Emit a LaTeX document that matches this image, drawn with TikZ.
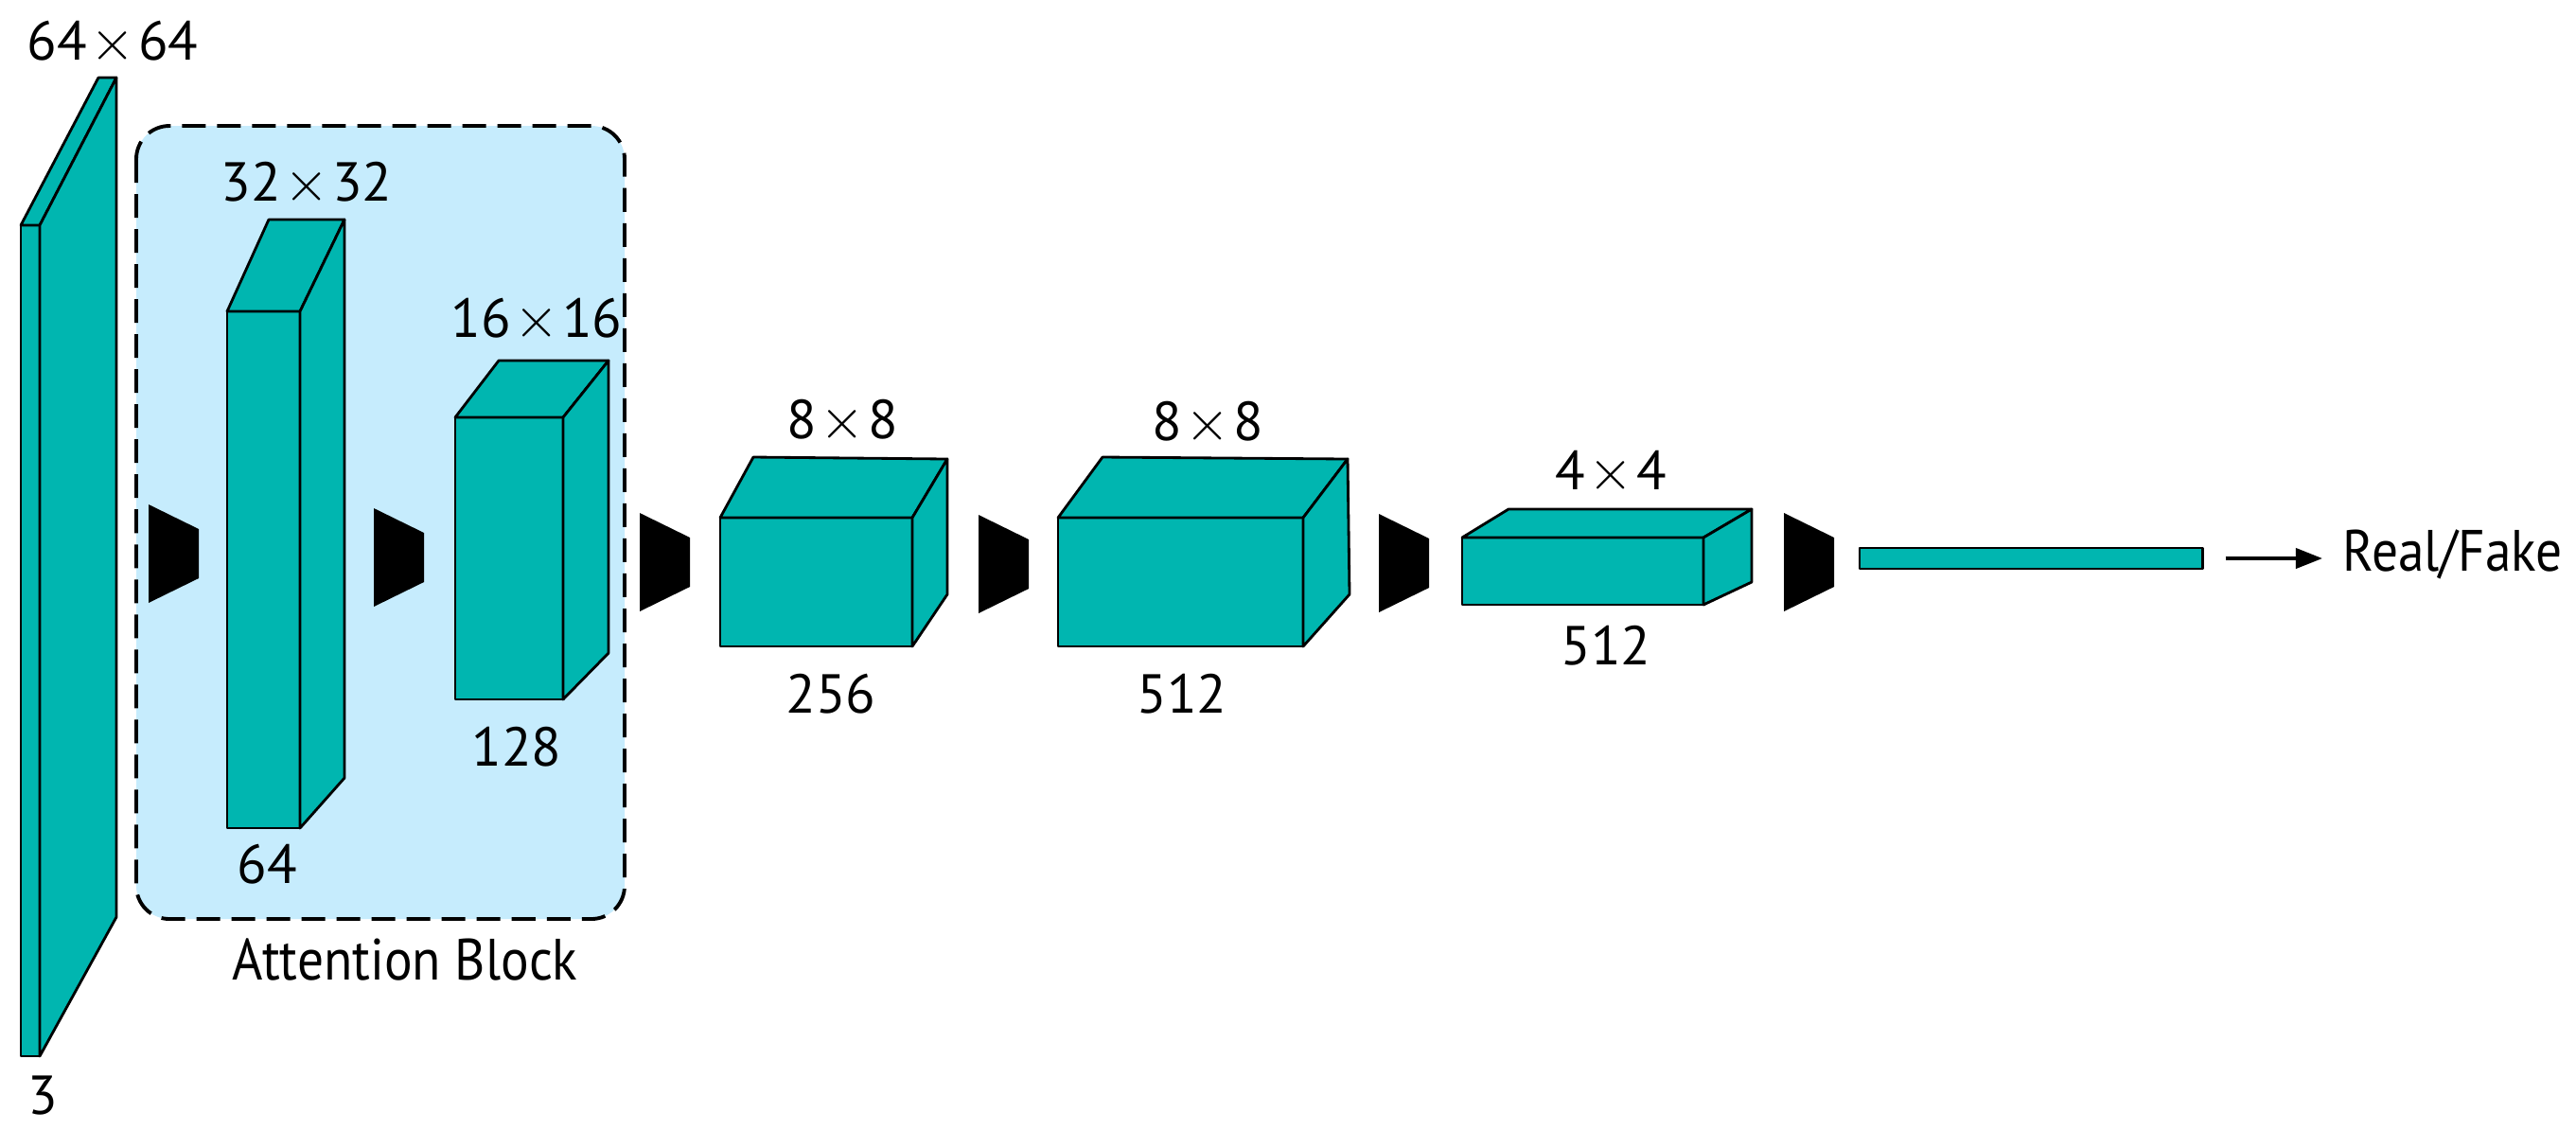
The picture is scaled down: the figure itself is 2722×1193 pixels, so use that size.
\documentclass[tikz,border=0pt]{standalone}
\usepackage{fontspec}
\setmainfont{PT Sans}
\newfontfamily\narrowfont[FakeStretch=0.9]{PT Sans}
\usetikzlibrary{arrows.meta}
\definecolor{fmteal}{RGB}{0,182,176}
\definecolor{attblue}{RGB}{198,236,253}
\newcommand{\by}{\kern1pt$\times$\kern1pt}

\begin{document}
\begin{tikzpicture}[x=0.01cm,y=-0.01cm,
    face/.style={draw=black,fill=fmteal,line width=0.8pt,line join=round},
    dim/.style={inner sep=0pt,anchor=base,font=\fontsize{16.5}{18}\selectfont},
    word/.style={inner sep=0pt,font=\fontsize{17.5}{20}\selectfont\narrowfont}]
  \useasboundingbox (0,0) rectangle (2722,1193);

  % attention block
  \draw[fill=attblue,line width=1.1pt,dash pattern=on 0.25cm off 0.12cm,rounded corners=0.35cm]
    (144,133) rectangle (660,971);
  \node[word,anchor=base] (att) at (428,1035) {Attention Block};

  % input 64x64x3
  \draw[face] (22,238) rectangle (42,1116);
  \draw[face] (22,238) -- (104,82) -- (123,82) -- (42,238) -- cycle;
  \draw[face] (42,238) -- (123,82) -- (123,969) -- (42,1116) -- cycle;
  \node[dim] (s0) at (119,63) {64\by 64};
  \node[dim] (c0) at (45,1177) {3};

  % 32x32x64
  \draw[face] (240,329) rectangle (317,875);
  \draw[face] (240,329) -- (284,232) -- (364,232) -- (317,329) -- cycle;
  \draw[face] (317,329) -- (364,232) -- (364,822) -- (317,875) -- cycle;
  \node[dim] (s1) at (324,212) {32\by 32};
  \node[dim] (c1) at (282,933) {64};

  % 16x16x128
  \draw[face] (481,441) rectangle (595,739);
  \draw[face] (481,441) -- (527,381) -- (643,381) -- (595,441) -- cycle;
  \draw[face] (595,441) -- (643,381) -- (643,690) -- (595,739) -- cycle;
  \node[dim] (s2) at (567,356) {16\by 16};
  \node[dim] (c2) at (546,809) {128};

  % 8x8x256
  \draw[face] (761,547) rectangle (964,683);
  \draw[face] (761,547) -- (796,483) -- (1001,485) -- (964,547) -- cycle;
  \draw[face] (964,547) -- (1001,485) -- (1001,628) -- (964,683) -- cycle;
  \node[dim] (s3) at (890,463) {8\by 8};
  \node[dim] (c3) at (878,753) {256};

  % 8x8x512
  \draw[face] (1118,547) rectangle (1377,683);
  \draw[face] (1118,547) -- (1165,483) -- (1424,485) -- (1377,547) -- cycle;
  \draw[face] (1377,547) -- (1424,485) -- (1426,628) -- (1377,683) -- cycle;
  \node[dim] (s4) at (1276,465) {8\by 8};
  \node[dim] (c4) at (1249,753) {512};

  % 4x4x512
  \draw[face] (1545,568) rectangle (1800,639);
  \draw[face] (1545,568) -- (1594,538) -- (1851,538) -- (1800,568) -- cycle;
  \draw[face] (1800,568) -- (1851,538) -- (1851,615) -- (1800,639) -- cycle;
  \node[dim] (s5) at (1702,517) {4\by 4};
  \node[dim] (c5) at (1697,702) {512};

  % conv layers
  \foreach \x/\y in {157/585,395/589,676/594,1034/596,1457/595,1885/594}
    \fill (\x,\y-52) -- (\x+53,\y-26) -- (\x+53,\y+26) -- (\x,\y+52) -- cycle;

  % output
  \node[face,inner sep=0pt,minimum width=3.62cm,minimum height=0.22cm] (fc) at (2146,590) {};
  \node[word,anchor=base west] (rf) at (2475,603) {Real/Fake};
  \draw[line width=1.1pt,-{Triangle[length=8pt,width=6pt]},shorten <=0.23cm,shorten >=0.21cm]
    (fc) -- (fc -| rf.west);
\end{tikzpicture}
\end{document}
